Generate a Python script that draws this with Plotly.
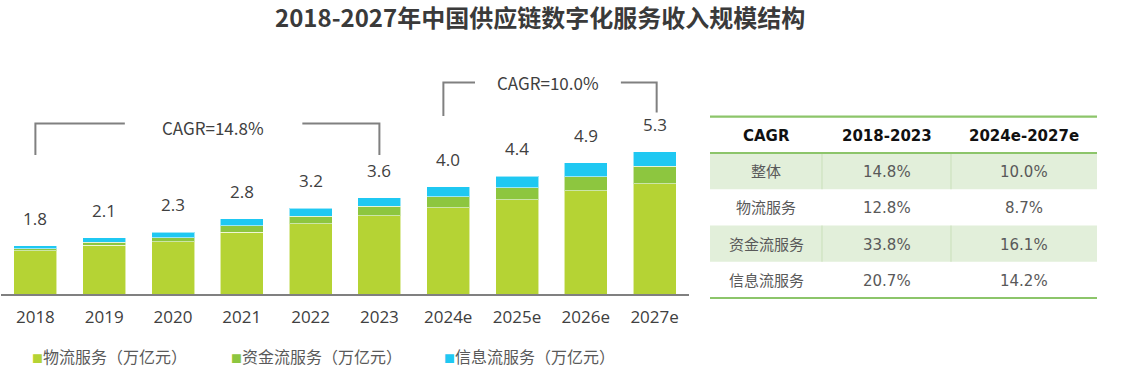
import plotly.graph_objects as go

years = ["2018", "2019", "2020", "2021", "2022", "2023", "2024e", "2025e", "2026e", "2027e"]
logistics = [1.62, 1.82, 1.95, 2.31, 2.62, 2.92, 3.22, 3.52, 3.86, 4.12]
capital = [0.07, 0.11, 0.15, 0.23, 0.29, 0.35, 0.40, 0.45, 0.52, 0.64]
info = [0.11, 0.17, 0.20, 0.26, 0.29, 0.33, 0.38, 0.43, 0.52, 0.54]
totals = [1.8, 2.1, 2.3, 2.8, 3.2, 3.6, 4.0, 4.4, 4.9, 5.3]
series_names = ["物流服务（万亿元）", "资金流服务（万亿元）", "信息流服务（万亿元）"]
series_colors = ["#B5D334", "#8DC63F", "#1FC8F2"]

cagr_labels = ["CAGR=14.8%", "CAGR=10.0%"]
table_header = ["CAGR", "2018-2023", "2024e-2027e"]
table_rows = ["整体", "物流服务", "资金流服务", "信息流服务"]
cagr_2018_2023 = ["14.8%", "12.8%", "33.8%", "20.7%"]
cagr_2024_2027 = ["10.0%", "8.7%", "16.1%", "14.2%"]

W, H = 1129, 378
CJK = "Noto Sans CJK SC"
TXT = "#404040"


def py(px):
    return 1 - px / H


def pxx(px):
    return px / W


fig = go.Figure()
xs = list(range(len(years)))
for name, vals, col in zip(series_names, [logistics, capital, info], series_colors):
    fig.add_trace(go.Bar(
        x=xs, y=vals, name=name, marker_color=col,
        marker_line=dict(width=1, color="rgba(255,255,255,0.55)"),
        showlegend=False, hoverinfo="y+name",
    ))

# total labels
for i, t in enumerate(totals):
    fig.add_annotation(x=i, y=t, xref="x", yref="y", text=f"{t:.1f}", showarrow=False,
                       xanchor="center", yanchor="bottom", yshift=14,
                       font=dict(family="Open Sans", size=17, color=TXT))

# CAGR brackets
gray = "#808080"
br = [
    # (x_left, x_right, y_top, y_bottom_left, y_bottom_right, gap_left, gap_right, label_x, label_y)
    (0.0, 5.0, 6.36, 5.19, 5.19, 1.30, 3.88, 2.58, 6.22),
    (5.93, 9.03, 7.89, 6.64, 6.77, 6.39, 8.51, 7.45, 7.89),
]
for (xl, xr, yt, ybl, ybr, gl, gr, lx, ly), lab in zip(br, cagr_labels):
    fig.add_shape(type="path", xref="x", yref="y",
                  path=f"M {xl},{ybl} L {xl},{yt} L {gl},{yt}",
                  line=dict(color=gray, width=2))
    fig.add_shape(type="path", xref="x", yref="y",
                  path=f"M {gr},{yt} L {xr},{yt} L {xr},{ybr}",
                  line=dict(color=gray, width=2))
    fig.add_annotation(x=lx, y=ly, xref="x", yref="y", text=lab, showarrow=False,
                       xanchor="center", yanchor="middle",
                       font=dict(family=CJK, size=17, color=TXT))

# title
fig.add_annotation(x=pxx(540), y=py(16), xref="paper", yref="paper",
                   xanchor="center", yanchor="middle",
                   text="<b>2018-2027年中国供应链数字化服务收入规模结构</b>", showarrow=False,
                   font=dict(family=CJK, size=24, color="#3A3A3A"))

# legend (custom)
leg_x = [30, 229, 442]
for x0, name, col in zip(leg_x, series_names, series_colors):
    fig.add_annotation(x=pxx(x0), y=py(356), xref="paper", yref="paper",
                       xanchor="left", yanchor="middle",
                       text=f"<span style='color:{col};font-size:11px'>■</span>{name}",
                       showarrow=False, font=dict(family=CJK, size=16, color="#595959"))

# table (drawn with paper-coordinate shapes and text)
tbl_left, tbl_right = 710, 1097
col_edges = [710, 822, 951, 1097]
hdr_top, hdr_bot = 116.7, 153
row_h = 36.25
green_fill = "#E2EFDA"
divider = "#C9DFB9"
tline = "#8CC56A"
row_fills = [green_fill, "white", green_fill, "white"]

col_centers = [(col_edges[j] + col_edges[j + 1]) / 2 for j in range(3)]
for j, h in enumerate(table_header):
    fig.add_annotation(x=pxx(col_centers[j]), y=py((hdr_top + hdr_bot) / 2 + 1),
                       xref="paper", yref="paper", xanchor="center", yanchor="middle",
                       text=f"<b>{h}</b>", showarrow=False,
                       font=dict(family="DejaVu Sans", size=15, color="#111111"))

columns = [table_rows, cagr_2018_2023, cagr_2024_2027]
for i in range(len(table_rows)):
    y0 = hdr_bot + i * row_h
    y1 = y0 + row_h
    if row_fills[i] != "white":
        fig.add_shape(type="rect", xref="paper", yref="paper", layer="below",
                      x0=pxx(tbl_left), x1=pxx(tbl_right), y0=py(y1), y1=py(y0),
                      fillcolor=row_fills[i], line=dict(width=0))
        for xe in col_edges[1:3]:
            fig.add_shape(type="line", xref="paper", yref="paper",
                          x0=pxx(xe), x1=pxx(xe), y0=py(y1), y1=py(y0),
                          line=dict(color=divider, width=1))
    for j, col in enumerate(columns):
        fig.add_annotation(x=pxx(col_centers[j]), y=py((y0 + y1) / 2 + 1),
                           xref="paper", yref="paper", xanchor="center", yanchor="middle",
                           text=col[i], showarrow=False,
                           font=dict(family=f"DejaVu Sans, {CJK}", size=15, color="#595959"))

for yy in [hdr_top, hdr_bot, hdr_bot + 4 * row_h]:
    fig.add_shape(type="line", xref="paper", yref="paper", x0=pxx(tbl_left), x1=pxx(tbl_right),
                  y0=py(yy), y1=py(yy), line=dict(color=tline, width=2.2))

fig.update_layout(
    width=W, height=H, margin=dict(l=0, r=0, t=0, b=0),
    paper_bgcolor="white", plot_bgcolor="white",
    barmode="stack", bargap=0.375,
    xaxis=dict(domain=[pxx(1), pxx(689)], range=[-0.5, 9.5], tickmode="array",
               tickvals=xs, ticktext=years, showgrid=False, zeroline=False,
               showline=True, linecolor="#808080", linewidth=1.5, ticks="",
               ticklabelstandoff=7,
               tickfont=dict(family="Open Sans", size=17, color=TXT)),
    yaxis=dict(domain=[py(294), py(40)], range=[0, 254 / 26.8], visible=False),
)

fig.write_html("out.html", post_script="document.body.style.margin='0';",
               config={"displayModeBar": False})
